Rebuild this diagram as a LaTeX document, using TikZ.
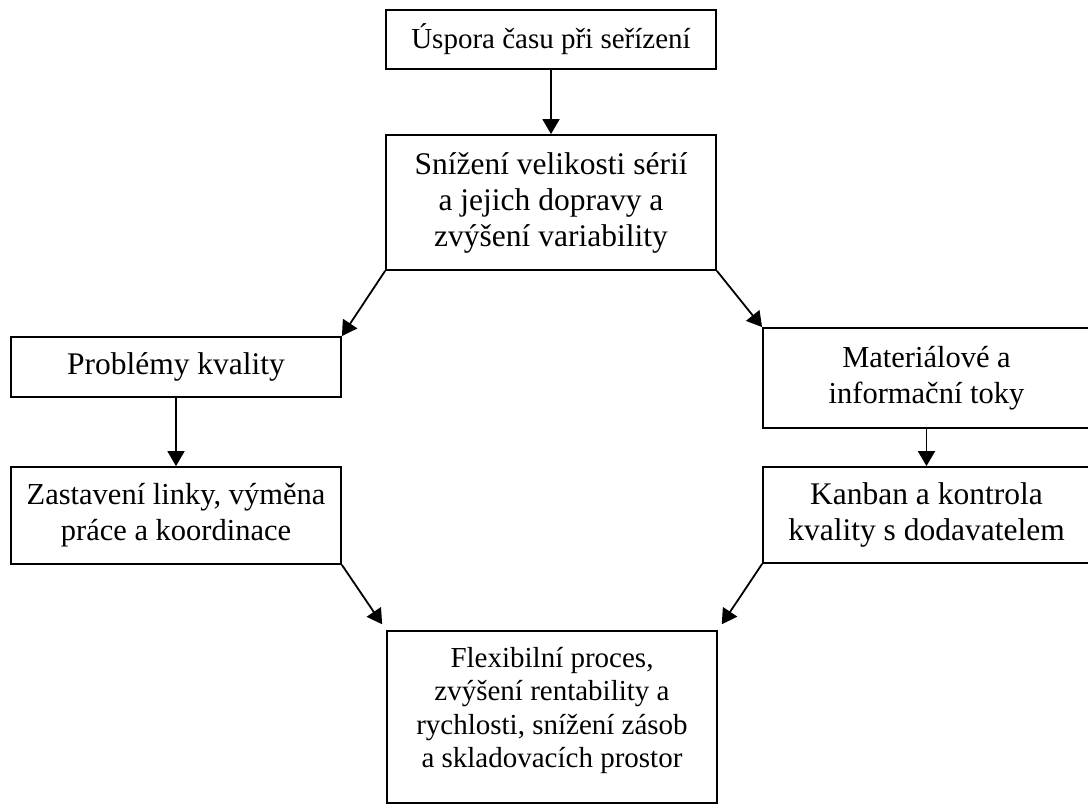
\documentclass[tikz,border=0pt]{standalone}
\usepackage{fontspec}
\setmainfont{Liberation Serif}
\usetikzlibrary{arrows.meta}
\begin{document}
\begin{tikzpicture}[x=1pt,y=-1pt,
  box/.style={draw, line width=1.8pt, rectangle, inner sep=0pt, align=center,
    font=\fontsize{31.5}{36}\selectfont},
  small/.style={font=\fontsize{29}{33.4}\selectfont},
  mid/.style={font=\fontsize{30.5}{36}\selectfont},
  label/.style={inner sep=0pt, align=center},
  flow/.style={line width=1.8pt, -{Triangle[length=15pt,width=17pt]}}]
\useasboundingbox (0,0) rectangle (1088,805);

% boxes
\node[box, small, minimum width=330, minimum height=59] (b1) at (551,39.5)
  {Úspora času při seřízení};
\node[box, minimum width=330, minimum height=135] (b2) at (551,202.5)
  {Snížení velikosti sérií\\a jejich dopravy a\\zvýšení variability};
\node[box, minimum width=330, minimum height=60] (b3) at (176,367)
  {Problémy kvality};
\node[box, mid, minimum width=327, minimum height=100] (b4) at (926.5,378)
  {Materiálové a\\informační toky};
\node[box, mid, minimum width=330, minimum height=97] (b5) at (176,515.5)
  {Zastavení linky, výměna\\práce a koordinace};
\node[box, minimum width=327, minimum height=96] (b6) at (926.5,515)
  {Kanban a kontrola\\kvality s dodavatelem};
\node[box, minimum width=330, minimum height=172] (b7) at (552,717) {};
\node[label, small, anchor=north] (b7text) at ([yshift=-17pt]b7.north)
  {Flexibilní proces,\\zvýšení rentability a\\rychlosti, snížení zásob\\a skladovacích prostor};

% connectors
\draw[flow] (b1.south) -- (b2.north);
\draw[flow] (b2.south west) -- (b3.north east);
\draw[flow] (b2.south east) -- (b4.north west);
\draw[flow] (b3.south) -- (b5.north);
\draw[flow] (b4.south) -- (b6.north);
\draw[flow, shorten >=7pt] (b5.south east) -- (b7.north west);
\draw[flow, shorten >=7pt] (b6.south west) -- (b7.north east);
\end{tikzpicture}
\end{document}
